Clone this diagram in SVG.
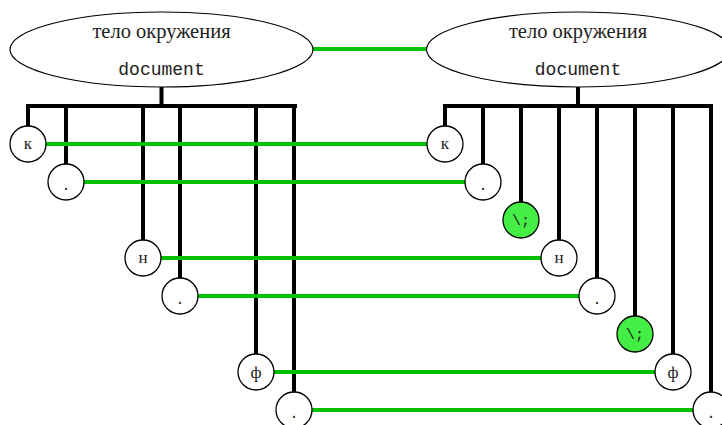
<svg xmlns="http://www.w3.org/2000/svg" width="722" height="425" viewBox="0 0 722 425">
<style>
.tree{stroke:#000;stroke-width:4;fill:none;stroke-linecap:square}
.link{stroke:#00c000;stroke-width:4;fill:none}
.ell{fill:#fff;stroke:#000;stroke-width:1.2}
.nd{fill:#fff;stroke:#000;stroke-width:1.3}
.g{fill:#44ee44}
.t1{font-family:"Liberation Serif",serif;font-size:20.5px;fill:#222;text-anchor:middle}
.t2{font-family:"Liberation Mono",monospace;font-size:18px;fill:#222;text-anchor:middle}
.t3{font-family:"Liberation Mono",monospace;font-size:15px;fill:#222;text-anchor:middle}
.t4{font-family:"Liberation Serif",serif;font-size:17px;fill:#222;text-anchor:middle}
</style>
<rect width="722" height="425" fill="#fff"/>
<g id="tree-left">
<path class="tree" d="M161.5 87V106M28 106H295M28 106V144M66 106V182M143 106V258M180 106V296M256 106V372M294 106V410"/>
</g>
<g id="tree-right">
<path class="tree" d="M578 87V106M445 106H711M445 106V144M483 106V182M521 106V220M559 106V258M597 106V296M635 106V334M673 106V372M711 106V410"/>
</g>
<g id="connectors">
<path class="link" d="M313 49H427M46 144H427M84 182H465M161 258H541M198 296H579M274 372H655M312 410H693"/>
</g>
<g id="env-left">
<ellipse class="ell" cx="161.5" cy="49.5" rx="151.5" ry="37.5"/>
<text class="t1" x="161.5" y="38">тело окружения</text>
<text class="t2" x="161.5" y="75">document</text>
</g>
<g id="env-right">
<ellipse class="ell" cx="578" cy="49.5" rx="151.5" ry="37.5"/>
<text class="t1" x="578" y="38">тело окружения</text>
<text class="t2" x="578" y="75">document</text>
</g>
<g id="L-k"><circle class="nd" cx="28" cy="144" r="18"/><text class="t4" x="28" y="149">к</text></g>
<g id="L-dot1"><circle class="nd" cx="66" cy="182" r="18"/><text class="t3" x="66" y="190">.</text></g>
<g id="L-n"><circle class="nd" cx="143" cy="258" r="18"/><text class="t4" x="143" y="263">н</text></g>
<g id="L-dot2"><circle class="nd" cx="180" cy="296" r="18"/><text class="t3" x="180" y="304">.</text></g>
<g id="L-f"><circle class="nd" cx="256" cy="372" r="18"/><text class="t4" x="256" y="378">ф</text></g>
<g id="L-dot3"><circle class="nd" cx="294" cy="410" r="18"/><text class="t3" x="294" y="418">.</text></g>
<g id="R-k"><circle class="nd" cx="445" cy="144" r="18"/><text class="t4" x="445" y="149">к</text></g>
<g id="R-dot1"><circle class="nd" cx="483" cy="182" r="18"/><text class="t3" x="483" y="190">.</text></g>
<g id="R-sc1"><circle class="nd g" cx="521" cy="220" r="18"/><text class="t3" x="521" y="225">\;</text></g>
<g id="R-n"><circle class="nd" cx="559" cy="258" r="18"/><text class="t4" x="559" y="263">н</text></g>
<g id="R-dot2"><circle class="nd" cx="597" cy="296" r="18"/><text class="t3" x="597" y="304">.</text></g>
<g id="R-sc2"><circle class="nd g" cx="635" cy="334" r="18"/><text class="t3" x="635" y="339">\;</text></g>
<g id="R-f"><circle class="nd" cx="673" cy="372" r="18"/><text class="t4" x="673" y="378">ф</text></g>
<g id="R-dot3"><circle class="nd" cx="711" cy="410" r="18"/><text class="t3" x="711" y="418">.</text></g>
</svg>
